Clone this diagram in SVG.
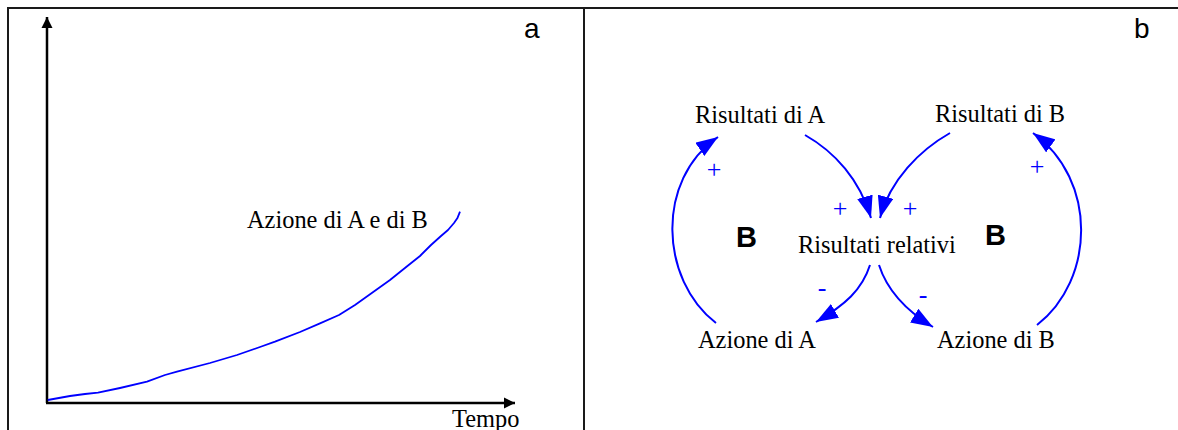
<svg xmlns="http://www.w3.org/2000/svg" width="1178" height="430" viewBox="0 0 1178 430">
<style>
.frame{stroke:#1a1a1a;stroke-width:2;fill:none}
.axis{stroke:#000;stroke-width:2.5;fill:none}
.curve{stroke:#0000ff;stroke-width:1.8;fill:none;stroke-linejoin:round}
.link{stroke:#0000ff;stroke-width:2;fill:none}
.lbl{font-family:"Liberation Serif","Times New Roman",serif;font-size:24.4px;fill:#000}
.sign{font-family:"Liberation Serif","Times New Roman",serif;font-size:26px;fill:#0000ff;text-anchor:middle}
.panel{font-family:"Liberation Sans",Arial,sans-serif;font-size:28px;fill:#000}
.loop{font-family:"Liberation Sans",Arial,sans-serif;font-size:29px;font-weight:bold;fill:#000}
</style>
<defs>
<marker id="ab" markerUnits="userSpaceOnUse" markerWidth="12" markerHeight="12" refX="11" refY="5.5" orient="auto" viewBox="0 0 12 11">
<path d="M0,0 L11,5.5 L0,11 z" fill="#000"/>
</marker>
<marker id="bb" markerUnits="userSpaceOnUse" markerWidth="24" markerHeight="16" refX="22" refY="8" orient="auto" viewBox="0 0 24 16">
<path d="M0,0 L22,8 L0,16 z" fill="#0000ff"/>
</marker>
</defs>
<rect width="1178" height="430" fill="#fff"/>
<g id="frame">
<path class="frame" d="M8,431 V8 H1179"/>
<path class="frame" d="M584,8 V431"/>
</g>
<g id="panel-a">
<path class="axis" d="M47,403 V17" marker-end="url(#ab)"/>
<path class="axis" d="M46,403 H515" marker-end="url(#ab)"/>
<path class="curve" d="M47.8,400 L70,396 L85,394 L98,392.7 L120,388 L147,381.7 L165,375 L177,371.7 L210,363 L237,355 L260,347 L275,341.7 L300,332 L320,323.3 L339,315 L355,305 L369,295 L390,280 L406.5,266.7 L420,256 L431,245 L441,236 L448,230 L454,223 L457.3,218.3 L460,211.7"/>
<text class="lbl" x="247" y="228">Azione di A e di B</text>
<text class="lbl" x="452" y="427">Tempo</text>
<text class="panel" x="524" y="38">a</text>
</g>
<g id="panel-b">
<text class="panel" x="1134" y="38">b</text>
<g id="connectors">
<path class="link" d="M805,135 C835,152 860,180 871,218" marker-end="url(#bb)"/>
<path class="link" d="M950,133 C920,150 890,180 880,218" marker-end="url(#bb)"/>
<path class="link" d="M870,265 C862,290 845,305 816,322" marker-end="url(#bb)"/>
<path class="link" d="M879,265 C887,290 905,310 933,327" marker-end="url(#bb)"/>
<path class="link" d="M716,323 C660,280 655,180 718,137" marker-end="url(#bb)"/>
<path class="link" d="M1037,325 C1095,280 1098,180 1033,133" marker-end="url(#bb)"/>
<text class="sign" x="840" y="217">+</text>
<text class="sign" x="910" y="217">+</text>
<text class="sign" x="714" y="178">+</text>
<text class="sign" x="1037" y="175">+</text>
<text class="sign" x="822" y="296">-</text>
<text class="sign" x="923" y="303">-</text>
</g>
<g id="node-risultati-a"><text class="lbl" x="695" y="123">Risultati di A</text></g>
<g id="node-risultati-b"><text class="lbl" x="935" y="122">Risultati di B</text></g>
<g id="node-risultati-relativi"><text class="lbl" x="798" y="253">Risultati relativi</text></g>
<g id="node-azione-a"><text class="lbl" x="698" y="348">Azione di A</text></g>
<g id="node-azione-b"><text class="lbl" x="937" y="348">Azione di B</text></g>
<g id="loop-left"><text class="loop" x="736" y="247">B</text></g>
<g id="loop-right"><text class="loop" x="985" y="245">B</text></g>
</g>
</svg>
